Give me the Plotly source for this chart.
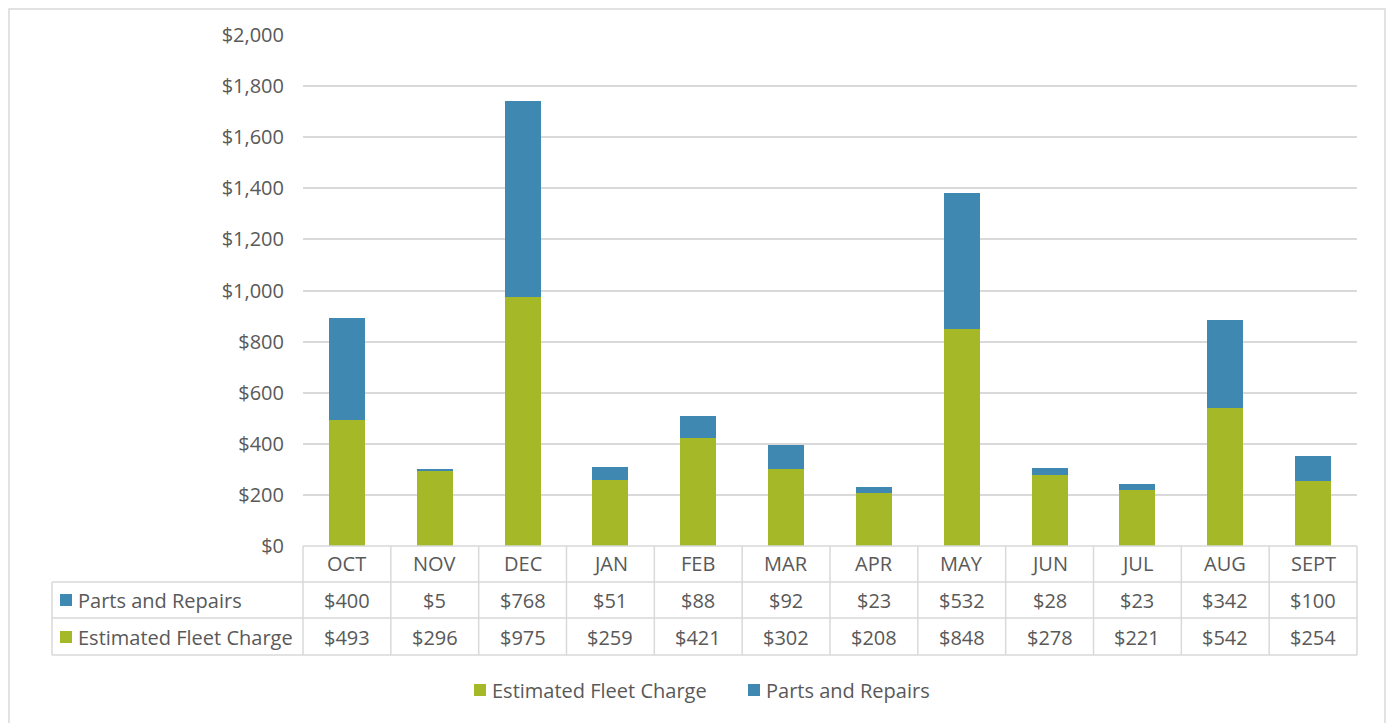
import plotly.graph_objects as go

months = ["OCT", "NOV", "DEC", "JAN", "FEB", "MAR", "APR", "MAY", "JUN", "JUL", "AUG", "SEPT"]
parts_repairs = [400, 5, 768, 51, 88, 92, 23, 532, 28, 23, 342, 100]
fleet_charge = [493, 296, 975, 259, 421, 302, 208, 848, 278, 221, 542, 254]
y_ticks = list(range(0, 2001, 200))
y_tick_text = [f"${v:,}" for v in y_ticks]

GREEN = "#A5B828"
BLUE = "#3F88B2"
GRID = "#D9D9D9"
TXT = "#595959"
FONT = "Open Sans"

OFF = 8  # page body margin
W, H = 1395 - OFF, 723 - OFF
L, R, T, B = 303, 1357, 35, 546  # plot area in screen pixels


def px(x):
    return (x - L) / (R - L)


def py(y):
    return (B - y) / (B - T)


fig = go.Figure()
fig.add_trace(go.Bar(x=months, y=fleet_charge, name="Estimated Fleet Charge",
                     marker=dict(color=GREEN, line=dict(width=0))))
fig.add_trace(go.Bar(x=months, y=parts_repairs, name="Parts and Repairs",
                     marker=dict(color=BLUE, line=dict(width=0))))

shapes = []
annotations = []
# outer chart border
shapes.append(dict(type="rect", xref="paper", yref="paper", x0=px(9), x1=px(1385),
                   y0=py(740), y1=py(9), line=dict(color=GRID, width=1.5), layer="below"))

row_y = [546, 582, 618, 655]
n = len(months)
cw = (R - L) / n
lw = dict(color=GRID, width=1.5)
shapes.append(dict(type="line", xref="paper", yref="paper", x0=px(L), x1=px(R), y0=py(546), y1=py(546), line=lw))
for yy in row_y[1:]:
    shapes.append(dict(type="line", xref="paper", yref="paper", x0=px(52), x1=px(R), y0=py(yy), y1=py(yy), line=lw))
for i in range(n + 1):
    xx = L + i * cw
    shapes.append(dict(type="line", xref="paper", yref="paper", x0=px(xx), x1=px(xx), y0=py(546), y1=py(655), line=lw))
shapes.append(dict(type="line", xref="paper", yref="paper", x0=px(52), x1=px(52), y0=py(582), y1=py(655), line=lw))

font = dict(family=FONT, size=20, color=TXT)


def key(x, y, col, label):
    shapes.append(dict(type="rect", xref="paper", yref="paper", x0=px(x), x1=px(x + 12), y0=py(y + 6),
                       y1=py(y - 6), fillcolor=col, line=dict(width=0)))
    annotations.append(dict(x=px(x + 16), y=py(y), xref="paper", yref="paper", text=label,
                            showarrow=False, xanchor="left", yanchor="middle", font=font))


key(60, 600, BLUE, "Parts and Repairs")
key(60, 637, GREEN, "Estimated Fleet Charge")
key(474, 690, GREEN, "Estimated Fleet Charge")
key(748, 690, BLUE, "Parts and Repairs")

for i, m in enumerate(months):
    cx = px(L + (i + 0.5) * cw)
    annotations.append(dict(x=cx, y=py(564), xref="paper", yref="paper", text=m, showarrow=False,
                            xanchor="center", yanchor="middle", font=font))
    annotations.append(dict(x=cx, y=py(600), xref="paper", yref="paper", text=f"${parts_repairs[i]:,}",
                            showarrow=False, xanchor="center", yanchor="middle", font=font))
    annotations.append(dict(x=cx, y=py(637), xref="paper", yref="paper", text=f"${fleet_charge[i]:,}",
                            showarrow=False, xanchor="center", yanchor="middle", font=font))

fig.update_layout(
    width=W, height=H,
    margin=dict(l=L - OFF, r=W - (R - OFF), t=T - OFF, b=H - (B - OFF)),
    paper_bgcolor="white", plot_bgcolor="white",
    barmode="stack", bargap=0.59,
    font=font,
    showlegend=False,
    shapes=shapes, annotations=annotations,
    xaxis=dict(showticklabels=False, showgrid=False, showline=False, zeroline=False,
               categoryorder="array", categoryarray=months),
    yaxis=dict(range=[0, 2000], tickvals=y_ticks, ticktext=y_tick_text,
               showgrid=True, gridcolor=GRID, gridwidth=1.5, zeroline=False,
               showline=False, ticklabelstandoff=18, tickfont=font),
)

fig.write_html("out.html")
